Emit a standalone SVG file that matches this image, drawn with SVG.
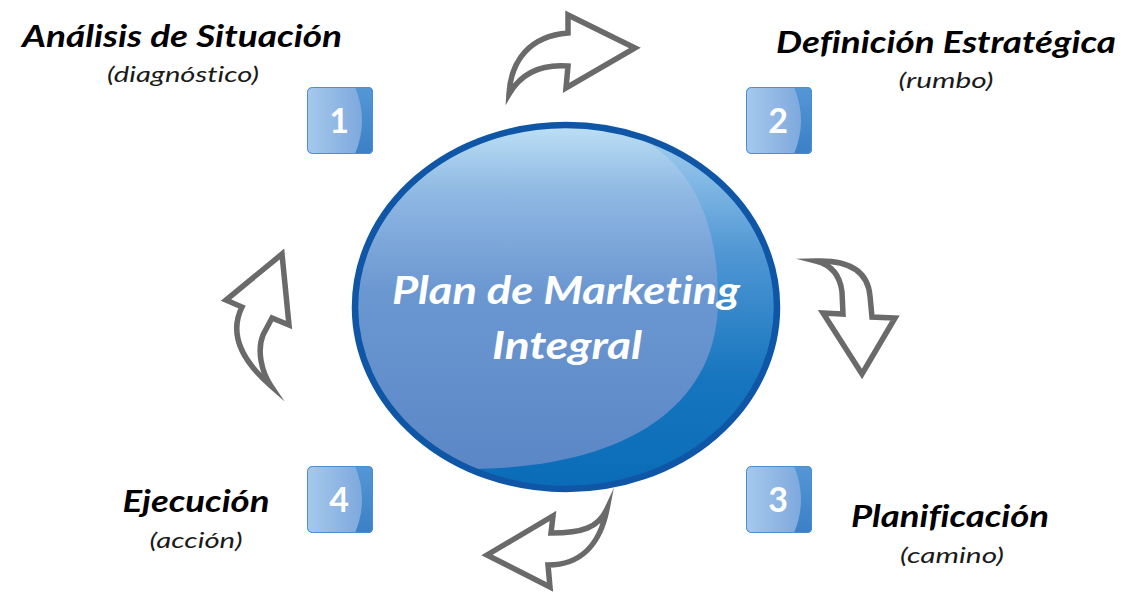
<svg xmlns="http://www.w3.org/2000/svg" xmlns:xlink="http://www.w3.org/1999/xlink" width="1140" height="592" viewBox="0 0 1140 592">
<style>
text{font-variant-ligatures:none;font-feature-settings:"liga" 0,"dlig" 0,"clig" 0}
.title{font-family:Lato,"Open Sans","Liberation Sans",sans-serif;font-weight:bold;font-style:italic;font-size:31px;fill:#000;text-anchor:middle}
.sub{font-family:Lato,"Open Sans","Liberation Sans",sans-serif;font-style:italic;font-size:21px;fill:#1a1a1a;text-anchor:middle}
.num{font-family:Lato,"Open Sans","Liberation Sans",sans-serif;font-weight:bold;font-size:34px;fill:#fff;text-anchor:middle}
.center{font-family:Lato,"Open Sans","Liberation Sans",sans-serif;font-weight:bold;font-style:italic;font-size:39px;fill:#fff;text-anchor:middle}
.arrow{fill:#fff;stroke:#6a6a6a;stroke-width:5.5;stroke-linejoin:miter;stroke-miterlimit:10}
</style>
<defs>
<linearGradient id="boxGrad" x1="0" y1="0" x2="1" y2="0">
<stop offset="0" stop-color="#a6c9ed"/>
<stop offset="1" stop-color="#76a2da"/>
</linearGradient>
<linearGradient id="boxDark" x1="0" y1="0" x2="0" y2="1">
<stop offset="0" stop-color="#5597d5"/>
<stop offset="1" stop-color="#3b7fc6"/>
</linearGradient>
<linearGradient id="mainGrad" x1="0" y1="0" x2="0" y2="1">
<stop offset="0" stop-color="#c4e6f8"/>
<stop offset="0.22" stop-color="#8fb8e3"/>
<stop offset="0.5" stop-color="#6b97d1"/>
<stop offset="1" stop-color="#5b87c6"/>
</linearGradient>
<linearGradient id="cresGrad" x1="0" y1="0" x2="0" y2="1">
<stop offset="0" stop-color="#a8d2f1"/>
<stop offset="0.35" stop-color="#5097d4"/>
<stop offset="0.7" stop-color="#1675be"/>
<stop offset="1" stop-color="#0a6cb8"/>
</linearGradient>
<clipPath id="ellClip"><ellipse cx="566" cy="307" rx="211" ry="182"/></clipPath>
<g id="box">
<rect x="0" y="0" width="66" height="67" rx="5" fill="url(#boxGrad)"/>
<path d="M 48 0 Q 62 33.5 48 67 L 61 67 Q 66 67 66 62 L 66 5 Q 66 0 61 0 Z" fill="url(#boxDark)"/>
<rect x="0.5" y="0.5" width="65" height="66" rx="5" fill="none" stroke="#4a8dd0" stroke-width="1"/>
</g>
</defs>
<rect width="1140" height="592" fill="#fff"/>

<g id="center-node">
<ellipse cx="566" cy="307" rx="211" ry="182" fill="url(#cresGrad)"/>
<path clip-path="url(#ellClip)" d="M 470 469 C 620 468 718 410 718 300 C 718 215 688 160 632 134 A 211 182 0 1 0 470 469 Z" fill="url(#mainGrad)"/>
<ellipse cx="566" cy="307" rx="211" ry="182" fill="none" stroke="#0f56a6" stroke-width="6.5"/>
<text class="center" x="566" y="304" textLength="348" lengthAdjust="spacingAndGlyphs">Plan de Marketing</text>
<text class="center" x="567" y="359" textLength="150" lengthAdjust="spacingAndGlyphs">Integral</text>
</g>

<g id="node1">
<use xlink:href="#box" x="307" y="87"/>
<text class="num" x="339" y="133">1</text>
<text class="title" x="182" y="47" textLength="320" lengthAdjust="spacingAndGlyphs">Análisis de Situación</text>
<text class="sub" x="183" y="82" textLength="152" lengthAdjust="spacingAndGlyphs">(diagnóstico)</text>
</g>

<g id="node2">
<use xlink:href="#box" x="746" y="87"/>
<text class="num" x="778" y="133">2</text>
<text class="title" x="946" y="53" textLength="340" lengthAdjust="spacingAndGlyphs">Definición Estratégica</text>
<text class="sub" x="946" y="88" textLength="95" lengthAdjust="spacingAndGlyphs">(rumbo)</text>
</g>

<g id="node3">
<use xlink:href="#box" x="746" y="466"/>
<text class="num" x="778" y="512">3</text>
<text class="title" x="950" y="527" textLength="198" lengthAdjust="spacingAndGlyphs">Planificación</text>
<text class="sub" x="952" y="563" textLength="104" lengthAdjust="spacingAndGlyphs">(camino)</text>
</g>

<g id="node4">
<use xlink:href="#box" x="307" y="466"/>
<text class="num" x="339" y="512">4</text>
<text class="title" x="196" y="512" textLength="147" lengthAdjust="spacingAndGlyphs">Ejecución</text>
<text class="sub" x="196" y="548" textLength="93" lengthAdjust="spacingAndGlyphs">(acción)</text>
</g>

<g id="connectors">
<path class="arrow" d="M 509 94 C 511 60 530 36 568 33 L 568 15 L 635 48 L 566 88 L 568 66 C 543 64 522 72 509 94 Z"/>
<path class="arrow" d="M 816 261 C 850 260 868 272 870 296 L 872 317 L 895 318 L 862 374 L 823 313 L 843 314 L 842 292 C 840 275 832 265 816 261 Z"/>
<path class="arrow" d="M 607 509 C 598 528 582 533 551 533 L 553 516 L 487 555 L 550 587 L 548 565 C 580 565 600 545 607 509 Z"/>
<path class="arrow" d="M 271 386 C 261 371 257 350 263 335 L 272 318 L 289 325 L 282 254 L 226 300 L 242 307 C 233 325 232 352 271 386 Z"/>
</g>
</svg>
